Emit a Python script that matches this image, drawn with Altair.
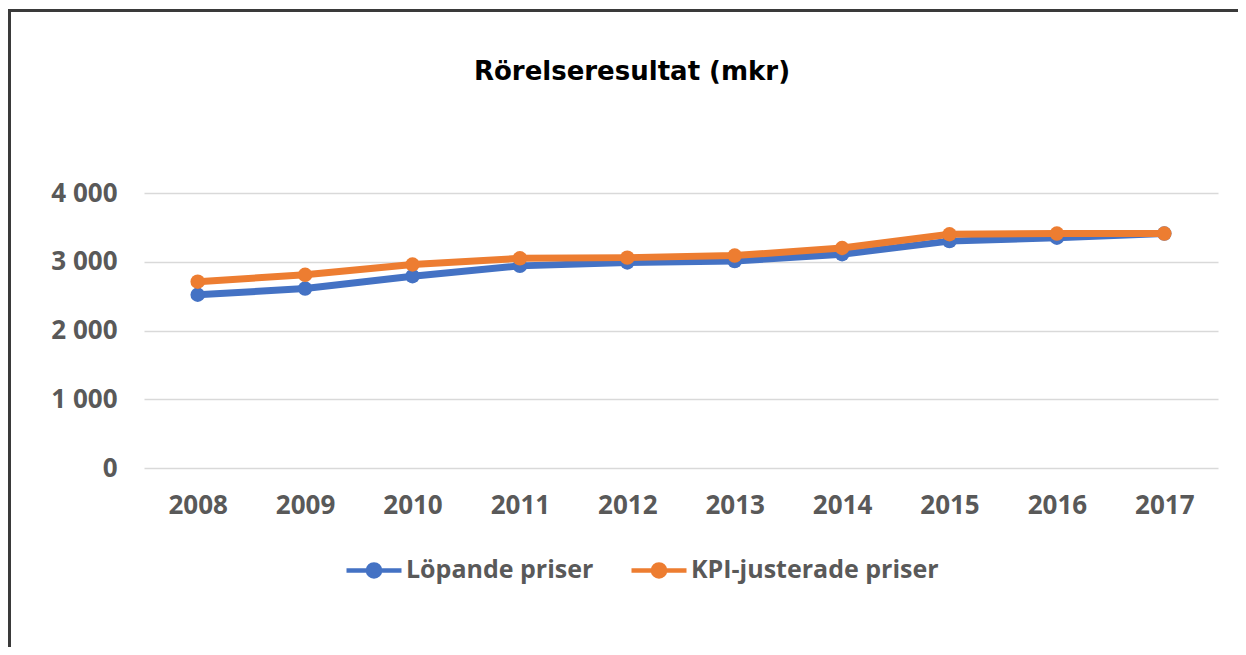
import altair as alt
import pandas as pd

years = ["2008", "2009", "2010", "2011", "2012", "2013", "2014", "2015", "2016", "2017"]
lopande = [2520, 2610, 2790, 2940, 2990, 3010, 3110, 3300, 3350, 3410]
kpi = [2710, 2810, 2960, 3050, 3060, 3090, 3200, 3400, 3410, 3410]
series_names = ["Löpande priser", "KPI-justerade priser"]
colors = ["#4472C4", "#ED7D31"]
title_text = "Rörelseresultat (mkr)"

df = pd.DataFrame(
    {"year": years * 2,
     "value": lopande + kpi,
     "series": [series_names[0]] * len(years) + [series_names[1]] * len(years)}
)
title_df = pd.DataFrame({"t": [title_text]})

FONT = "Open Sans"
W, H = 1074, 275

x_enc = alt.X("year:O", title=None,
              scale=alt.Scale(paddingOuter=0.5, paddingInner=0),
              axis=alt.Axis(labelAngle=0, labelFontSize=26, labelFontWeight="bold",
                            labelColor="#595959", labelFont=FONT, labelPadding=24,
                            ticks=False, domain=False, grid=False))
y_enc = alt.Y("value:Q", title=None,
              scale=alt.Scale(domain=[0, 4000], nice=False),
              axis=alt.Axis(values=[0, 1000, 2000, 3000, 4000],
                            labelExpr="replace(format(datum.value, ','), ',', ' ')",
                            labelFontSize=26, labelFontWeight="bold", labelColor="#595959",
                            labelFont=FONT, labelPadding=27, ticks=False, domain=False,
                            grid=True, gridColor="#D9D9D9", gridWidth=1.5))
color_enc = alt.Color("series:N", title=None,
                      scale=alt.Scale(domain=series_names, range=colors),
                      legend=alt.Legend(orient="none", legendX=200, legendY=347,
                                        direction="horizontal",
                                        symbolType="M-1,0L1,0M0.22,0A0.22,0.22,0,1,1,-0.22,0A0.22,0.22,0,1,1,0.22,0Z",
                                        symbolSize=3025, symbolStrokeWidth=4.5,
                                        labelFontSize=25, labelFontWeight="bold",
                                        labelColor="#595959", labelFont=FONT,
                                        labelLimit=0, columnPadding=28, labelOffset=2))

def series_layer(name):
    return alt.Chart(df).transform_filter(alt.datum.series == name).mark_line(
        strokeWidth=7, point=alt.OverlayMarkDef(filled=True, size=210)
    ).encode(x=x_enc, y=y_enc, color=color_enc)

border = alt.Chart(df).mark_rect(fill=None, stroke="#3A3A3A", strokeWidth=2).encode(
    x=alt.value(-134.5), x2=alt.value(1200), y=alt.value(-182.5), y2=alt.value(700)
)

title = alt.Chart(title_df).mark_text(
    font="DejaVu Sans", fontSize=26, fontWeight="bold", color="#000000",
    align="center", baseline="alphabetic"
).encode(text="t:N", x=alt.value(488), y=alt.value(-113))

chart = alt.layer(border, title, series_layer(series_names[0]), series_layer(series_names[1])).properties(
    width=W, height=H,
    background="white",
    autosize=alt.AutoSizeParams(type="none"),
    padding={"left": 136, "top": 185, "right": 20, "bottom": 179},
).configure_view(stroke=None)

chart.save("out.html", embed_options={"renderer": "svg", "actions": False})
